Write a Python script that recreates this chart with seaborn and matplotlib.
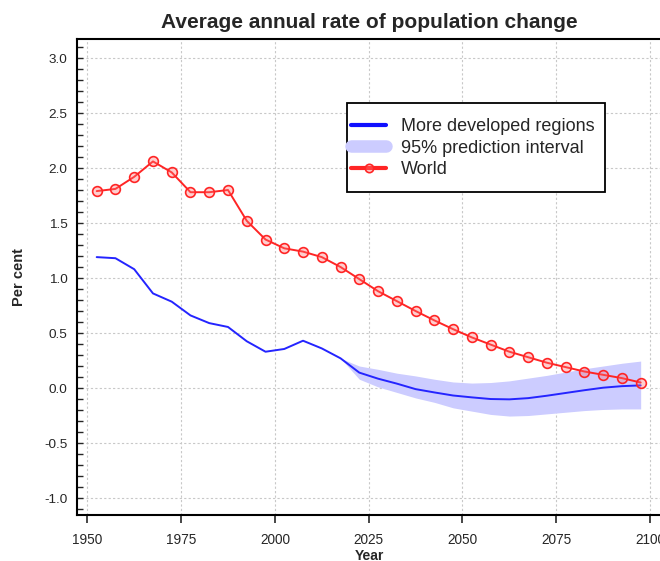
import matplotlib
matplotlib.use("Agg")
import matplotlib.pyplot as plt
import seaborn as sns
import pandas as pd
from matplotlib.lines import Line2D
from matplotlib.patches import Rectangle
from matplotlib.ticker import MultipleLocator

# ---- data -----------------------------------------------------------
years = [1952.5, 1957.5, 1962.5, 1967.5, 1972.5, 1977.5, 1982.5, 1987.5,
         1992.5, 1997.5, 2002.5, 2007.5, 2012.5, 2017.5, 2022.5, 2027.5,
         2032.5, 2037.5, 2042.5, 2047.5, 2052.5, 2057.5, 2062.5, 2067.5,
         2072.5, 2077.5, 2082.5, 2087.5, 2092.5, 2097.5]
world = [1.79, 1.81, 1.92, 2.06, 1.96, 1.78, 1.78, 1.80,
         1.52, 1.35, 1.27, 1.24, 1.19, 1.10, 0.99, 0.88,
         0.79, 0.70, 0.615, 0.535, 0.46, 0.395, 0.33, 0.28,
         0.23, 0.19, 0.15, 0.12, 0.09, 0.05]
more_developed = [1.19, 1.18, 1.08, 0.86, 0.785, 0.66, 0.59, 0.555,
                  0.425, 0.33, 0.355, 0.43, 0.36, 0.27, 0.14, 0.085,
                  0.04, -0.01, -0.04, -0.068, -0.085, -0.10, -0.103, -0.092,
                  -0.07, -0.045, -0.02, 0.003, 0.017, 0.024]
pi_years = [2017.5, 2022.5, 2027.5, 2032.5, 2037.5, 2042.5, 2047.5, 2052.5,
            2057.5, 2062.5, 2067.5, 2072.5, 2077.5, 2082.5, 2087.5, 2092.5,
            2097.5]
pi_lower = [0.27, 0.08, 0.01, -0.04, -0.09, -0.13, -0.18, -0.21,
            -0.24, -0.255, -0.25, -0.235, -0.22, -0.205, -0.195, -0.19, -0.19]
pi_upper = [0.27, 0.20, 0.17, 0.135, 0.11, 0.08, 0.055, 0.045,
            0.05, 0.065, 0.09, 0.115, 0.145, 0.175, 0.20, 0.225, 0.245]

x_ticks = [1950, 1975, 2000, 2025, 2050, 2075, 2100]
y_ticks = [-1.0, -0.5, 0.0, 0.5, 1.0, 1.5, 2.0, 2.5, 3.0]

title = "Average annual rate of population change"
labels = ["More developed regions", "95% prediction interval", "World"]

# ---- style ----------------------------------------------------------
sns.set_style("white")
plt.rcParams["font.family"] = ["Liberation Sans", "DejaVu Sans"]

BLUE = "#2424ff"
BAND = "#ccccff"
RED = "#ff2525"
MFACE = (1, 0.45, 0.45, 0.35)

W, H = 660, 561
fig = plt.figure(figsize=(W / 100, H / 100), dpi=100)
ax = fig.add_axes([77.3 / W, 1 - 515.3 / H, 584 / W, 476 / H])

df = pd.DataFrame({"Year": years, "World": world, "More": more_developed})

ax.fill_between(pi_years, pi_lower, pi_upper, color=BAND, linewidth=0, zorder=1)
sns.lineplot(data=df, x="Year", y="More", color=BLUE, linewidth=1.4, ax=ax, zorder=3)
sns.lineplot(data=df, x="Year", y="World", color=RED, linewidth=1.4, ax=ax,
             marker="o", markersize=7, markerfacecolor=MFACE,
             markeredgecolor=RED, markeredgewidth=1.2, zorder=4)

ax.set_xlim(1947.33, 2103.0)
ax.set_ylim(-1.157, 3.17)
ax.set_xticks(x_ticks)
ax.set_yticks(y_ticks)
ax.set_xticklabels([str(t) for t in x_ticks])
ax.set_yticklabels([f"{t:.1f}" for t in y_ticks])
ax.yaxis.set_minor_locator(MultipleLocator(0.1))

ax.grid(True, which="major", color="#c8c8c8", linestyle=(0, (2, 2)), linewidth=0.8)
ax.set_axisbelow(True)

for s in ax.spines.values():
    s.set_color("black")
    s.set_linewidth(1.5)
    s.set_visible(True)

ax.tick_params(axis="y", which="major", direction="in", length=4, width=1,
               left=True, labelsize=9.7, pad=7)
ax.tick_params(axis="y", which="minor", direction="in", length=4, width=1, left=True)
ax.tick_params(axis="x", which="major", direction="out", length=6, width=1.2,
               bottom=True, labelsize=9.8, pad=7)

ax.set_xlabel("Year", fontweight="bold", fontsize=10, labelpad=1)
ax.set_ylabel("Per cent", fontweight="bold", fontsize=10.5, labelpad=13)
ax.set_title(title, fontweight="bold", fontsize=15, pad=8)

# legend: frame drawn as a rectangle, entries via matplotlib legend
fig.patches.append(Rectangle((347 / W, 1 - 192 / H), (605 - 347) / W, (192 - 103) / H,
                             transform=fig.transFigure, facecolor="white",
                             edgecolor="black", linewidth=1.3, zorder=5))
handles = [
    Line2D([], [], color="#1010ff", linewidth=3),
    Line2D([], [], color=BAND, linewidth=9, solid_capstyle="round"),
    Line2D([], [], color=RED, linewidth=3, marker="o", markersize=6,
           markerfacecolor=MFACE, markeredgecolor=RED, markeredgewidth=1.2),
]
leg = fig.legend(handles, labels, loc="upper left",
                 bbox_to_anchor=(351 / W, 1 - 118 / H), bbox_transform=fig.transFigure,
                 borderaxespad=0, borderpad=0, fontsize=13, frameon=False,
                 handlelength=1.95, handletextpad=0.8, labelspacing=0.26)
leg.set_zorder(6)

fig.savefig("out.png", dpi=100)
